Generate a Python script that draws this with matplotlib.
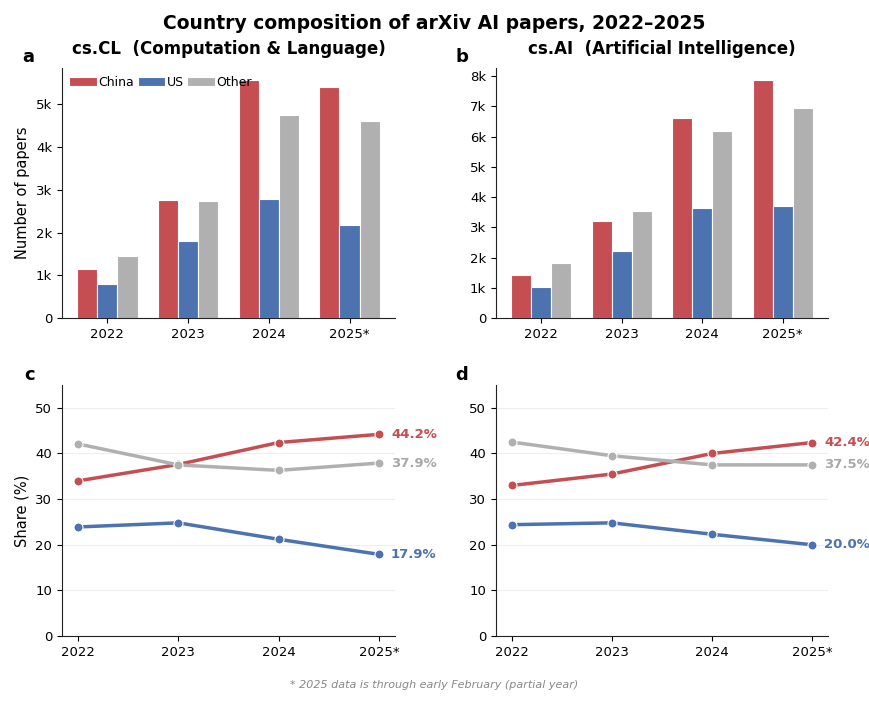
import numpy as np
import matplotlib.pyplot as plt

# ---- data ----
years = ["2022", "2023", "2024", "2025*"]
countries = ["China", "US", "Other"]

cl_china = [1150, 2750, 5570, 5400]
cl_us = [800, 1800, 2780, 2180]
cl_other = [1440, 2730, 4750, 4620]

ai_china = [1430, 3200, 6600, 7870]
ai_us = [1040, 2220, 3650, 3700]
ai_other = [1820, 3550, 6170, 6950]

cl_share_china = [34.0, 37.6, 42.4, 44.2]
cl_share_us = [23.9, 24.8, 21.2, 17.9]
cl_share_other = [42.1, 37.5, 36.3, 37.9]

ai_share_china = [33.0, 35.5, 40.0, 42.4]
ai_share_us = [24.4, 24.8, 22.3, 20.0]
ai_share_other = [42.5, 39.5, 37.5, 37.5]

colors = ["#C44E52", "#4C72B0", "#B0B0B0"]
label_colors = ["#C44E52", "#4C72B0", "#A8A8A8"]

plt.rcParams["font.family"] = "DejaVu Sans"
plt.rcParams["axes.edgecolor"] = "#222222"
plt.rcParams["xtick.labelsize"] = 9.5
plt.rcParams["ytick.labelsize"] = 9.5

fig = plt.figure(figsize=(8.69, 7.02), dpi=100)
ax_a = fig.add_axes([0.0713, 0.547, 0.3832, 0.356])
ax_b = fig.add_axes([0.5708, 0.547, 0.382, 0.356])
ax_c = fig.add_axes([0.0713, 0.094, 0.3832, 0.3575])
ax_d = fig.add_axes([0.5708, 0.094, 0.382, 0.3575])


def fmt_k(v, pos):
    return "0" if v == 0 else "%dk" % (v / 1000)


def bars(ax, series, title):
    x = np.arange(len(years))
    w = 0.25
    for i, (vals, c, name) in enumerate(zip(series, colors, countries)):
        ax.bar(x + (i - 1) * w, vals, w, color=c, edgecolor="white",
               linewidth=0.8, label=name)
    ax.set_xticks(x)
    ax.set_xticklabels(years)
    ax.set_ylim(0, max(max(s) for s in series) * 1.05)
    ax.yaxis.set_major_formatter(plt.FuncFormatter(fmt_k))
    ax.set_title(title, fontsize=12, fontweight="bold", pad=10)
    for s in ["top", "right"]:
        ax.spines[s].set_visible(False)


def shares(ax, series):
    x = np.arange(len(years))
    for vals, c, lc in zip(series, colors, label_colors):
        ax.plot(x, vals, color=c, lw=2.5, marker="o", ms=6.5,
                markeredgecolor="white", markeredgewidth=0.8)
        ax.text(x[-1] + 0.12, vals[-1], "%.1f%%" % vals[-1], color=lc,
                fontsize=9.5, fontweight="bold", va="center", ha="left")
    ax.set_xticks(x)
    ax.set_xticklabels(years)
    ax.set_xlim(-0.16, 3.16)
    ax.set_ylim(0, 55)
    ax.set_yticks([0, 10, 20, 30, 40, 50])
    ax.grid(axis="y", color="#EEEEEE", lw=0.8)
    ax.set_axisbelow(True)
    for s in ["top", "right"]:
        ax.spines[s].set_visible(False)


bars(ax_a, [cl_china, cl_us, cl_other], "cs.CL  (Computation & Language)")
bars(ax_b, [ai_china, ai_us, ai_other], "cs.AI  (Artificial Intelligence)")
ax_a.set_ylabel("Number of papers", fontsize=10.5)
ax_a.legend(loc="upper left", ncol=3, frameon=False, fontsize=9,
            handlelength=2.2, handleheight=0.7, handletextpad=0.1,
            columnspacing=0.3, borderaxespad=0.2, bbox_to_anchor=(0.0, 1.0))

shares(ax_c, [cl_share_china, cl_share_us, cl_share_other])
shares(ax_d, [ai_share_china, ai_share_us, ai_share_other])
ax_c.set_ylabel("Share (%)", fontsize=10.5)

for lbl, (px, py) in zip("abcd", [(28, 57), (462, 57), (30, 375), (462, 375)]):
    fig.text(px / 869, 1 - py / 702, lbl, fontsize=13, fontweight="bold",
             ha="center", va="center")

fig.suptitle("Country composition of arXiv AI papers, 2022\u20132025",
             fontsize=13.5, fontweight="bold", y=0.98)
fig.text(0.5, 0.02, "* 2025 data is through early February (partial year)",
         ha="center", fontsize=8, style="italic", color="#888888")

fig.savefig("out.png", dpi=100)
